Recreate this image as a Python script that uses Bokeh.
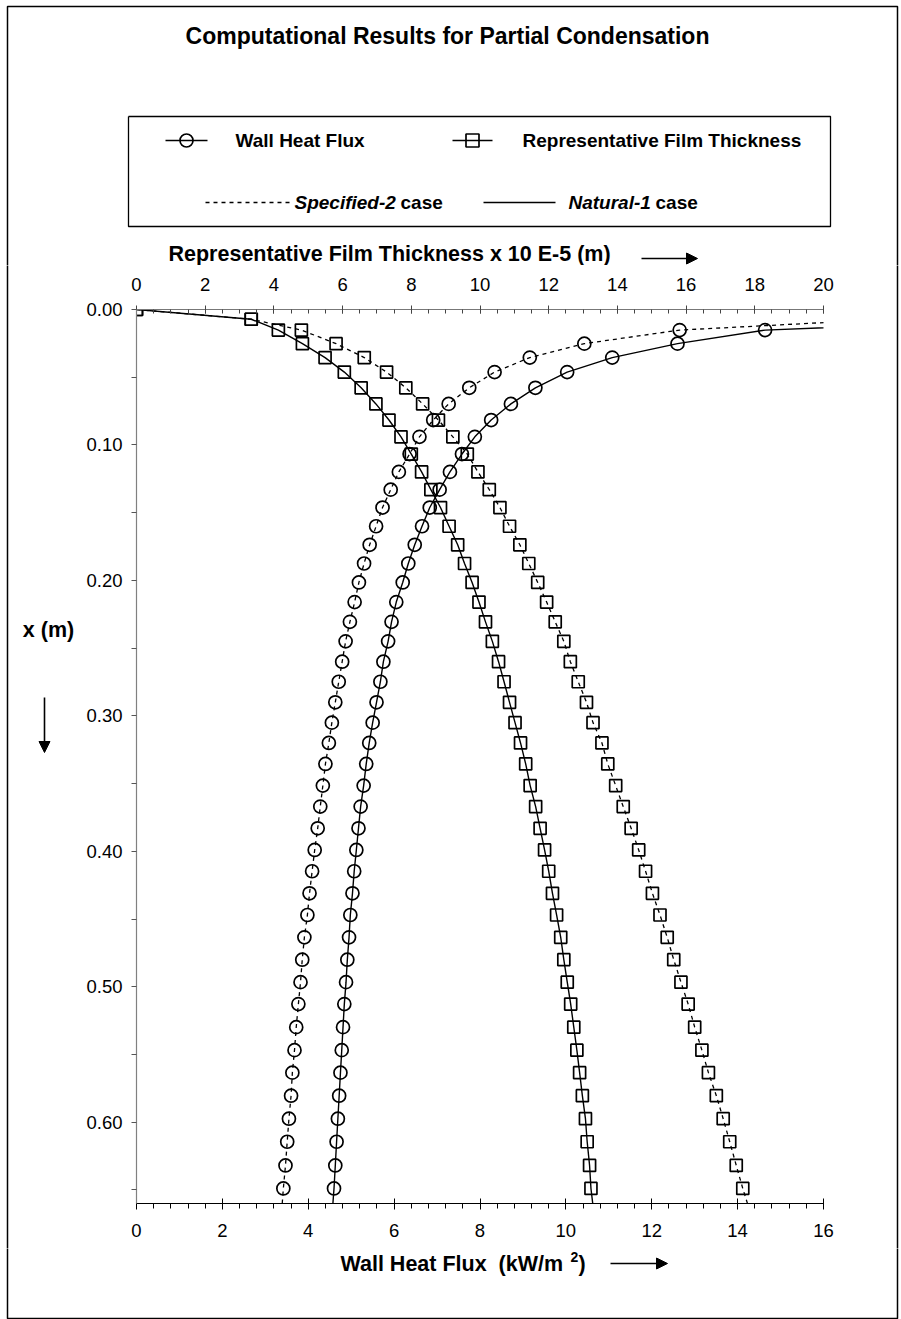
from bokeh.plotting import figure
from bokeh.layouts import column, row
from bokeh.models import (Range1d, LinearAxis, FixedTicker, PrintfTickFormatter,
                          Arrow, NormalHead)
from bokeh.core.properties import value
from bokeh.embed import file_html
from bokeh.resources import INLINE

# ---------------------------------------------------------------- data
# distance along the wall, x (m)
depth = [0, 0.0072, 0.0152, 0.0252, 0.0355, 0.0462, 0.0578, 0.0697, 0.0816, 0.094,
         0.1067, 0.1199, 0.133, 0.1462, 0.160, 0.1737, 0.1875, 0.2015, 0.216, 0.2306,
         0.245, 0.260, 0.2748, 0.290, 0.305, 0.320, 0.3355, 0.3515, 0.367, 0.383,
         0.399, 0.4147, 0.431, 0.447, 0.4635, 0.480, 0.4966, 0.5128, 0.5298, 0.5468,
         0.5634, 0.5804, 0.5974, 0.6144, 0.6319, 0.6489, 0.666]

# wall heat flux (kW/m2); no value at the leading edge
flux_depth = depth[1:]
flux_natural = [21.0, 14.64, 12.60, 11.08, 10.03, 9.29, 8.72, 8.26, 7.88, 7.58,
                7.30, 7.06, 6.83, 6.65, 6.48, 6.33, 6.20, 6.05, 5.94, 5.86,
                5.75, 5.68, 5.59, 5.50, 5.42, 5.35, 5.29, 5.22, 5.17, 5.12,
                5.07, 5.03, 4.98, 4.95, 4.91, 4.88, 4.84, 4.81, 4.78, 4.75,
                4.72, 4.69, 4.66, 4.63, 4.60, 4.56]
flux_specified = [17.5, 12.65, 10.43, 9.16, 8.34, 7.75, 7.27, 6.91, 6.59, 6.36,
                  6.11, 5.92, 5.73, 5.58, 5.43, 5.30, 5.18, 5.08, 4.97, 4.87,
                  4.79, 4.71, 4.63, 4.55, 4.48, 4.40, 4.34, 4.28, 4.22, 4.15,
                  4.09, 4.03, 3.98, 3.91, 3.86, 3.82, 3.77, 3.72, 3.68, 3.63,
                  3.60, 3.55, 3.51, 3.47, 3.42, 3.38]

# representative film thickness (x 10E-5 m)
thick_natural = [0, 3.34, 4.13, 4.83, 5.49, 6.05, 6.54, 6.97, 7.35, 7.70,
                 8.00, 8.30, 8.57, 8.85, 9.10, 9.35, 9.55, 9.77, 9.97, 10.16,
                 10.36, 10.54, 10.70, 10.86, 11.02, 11.18, 11.33, 11.46, 11.62, 11.75,
                 11.88, 12.00, 12.11, 12.23, 12.35, 12.44, 12.54, 12.64, 12.73, 12.82,
                 12.90, 12.98, 13.07, 13.12, 13.19, 13.23, 13.31]
thick_specified = [0, 3.34, 4.80, 5.81, 6.63, 7.28, 7.84, 8.33, 8.79, 9.21,
                   9.63, 9.94, 10.27, 10.58, 10.86, 11.16, 11.42, 11.68, 11.94, 12.19,
                   12.44, 12.63, 12.86, 13.10, 13.29, 13.55, 13.72, 13.95, 14.17, 14.40,
                   14.62, 14.82, 15.02, 15.24, 15.45, 15.64, 15.85, 16.06, 16.25, 16.46,
                   16.65, 16.88, 17.08, 17.27, 17.46, 17.65, 17.86]

flux_ticks = [0, 2, 4, 6, 8, 10, 12, 14, 16]
thick_ticks = [0, 2, 4, 6, 8, 10, 12, 14, 16, 18, 20]
depth_ticks = [0.0, 0.1, 0.2, 0.3, 0.4, 0.5, 0.6]

# ---------------------------------------------------------------- page geometry
W, H = 901, 1319
TOP_H = 265          # header strip: title, key box, top axis title
BOT_Y = 1248         # footer strip: bottom axis title
LEFT_W = 76          # left strip: "x (m)"
RIGHT_X = 881        # right strip: page border
L, R, T, B = 136, 823, 309, 1203   # plotting frame on the page
FONT = "Liberation Sans"
DASH = "4 4"
INK = "black"
NBSP = "\u00a0"
OVER = 4             # border pieces run a little past each strip edge


def no_frame_align(f):
    # keep each strip's frame where its own borders put it
    try:
        f.frame_align = False
    except AttributeError:
        pass
    return f


def strip(x0, y0, w, h):
    """A bare figure whose data units are page pixels."""
    f = figure(width=w, height=h, x_range=Range1d(x0, x0 + w),
               y_range=Range1d(y0 + h, y0), x_axis_location=None,
               y_axis_location=None, toolbar_location=None,
               output_backend="svg", min_border=0)
    f.grid.grid_line_color = None
    f.outline_line_color = None
    f.background_fill_color = "white"
    f.border_fill_color = "white"
    return no_frame_align(f)


def put_text(f, x, y, s, size, style="bold", align="left"):
    f.text(x=[x], y=[y], text=[s], text_font=value(FONT),
           text_font_size=value(size), text_font_style=value(style),
           text_align=value(align), text_baseline=value("middle"),
           text_color=INK)


def put_arrow(f, x0, y0, x1, y1):
    f.add_layout(Arrow(x_start=x0, y_start=y0, x_end=x1, y_end=y1,
                       line_color=INK, line_width=1.6,
                       end=NormalHead(size=11, fill_color=INK, line_color=INK,
                                      line_width=1)))


BORDER = dict(line_color=INK, line_width=1.5)
MK = dict(size=13, fill_color=None, line_color=INK, line_width=1.7)

# ---------------------------------------------------------------- header
head = strip(0, 0, W, TOP_H)
head.line([7, 7, 897, 897], [TOP_H + OVER, 6, 6, TOP_H + OVER], **BORDER)
put_text(head, 447, 35, "Computational Results for Partial Condensation", "23px",
         align="center")
# key box
head.line([128, 830, 830, 128, 128], [116, 116, 226, 226, 116],
          line_color=INK, line_width=1.3)
head.line([165, 207], [140, 140], line_color=INK, line_width=1.3)
head.scatter([186], [140], marker="circle", **MK)
put_text(head, 235, 140, "Wall Heat Flux", "19px")
head.line([452, 492], [140, 140], line_color=INK, line_width=1.3)
head.scatter([472], [140], marker="square", **MK)
put_text(head, 522, 140, "Representative Film Thickness", "19px")
head.line([205, 290], [202, 202], line_color=INK, line_width=1.3, line_dash=DASH)
put_text(head, 294, 202, "Specified-2", "19px", style="bold italic")
put_text(head, 400, 202, "case", "19px")
head.line([483, 555], [202, 202], line_color=INK, line_width=1.3)
put_text(head, 568, 202, "Natural-1", "19px", style="bold italic")
put_text(head, 655, 202, "case", "19px")
# top axis title
put_text(head, 168, 253, "Representative Film Thickness x 10 E-5 (m)", "21.5px")
put_arrow(head, 641, 258, 697, 258)

# ---------------------------------------------------------------- side strips
mid_h = BOT_Y - TOP_H
left = strip(0, TOP_H, LEFT_W, mid_h)
left.line([7, 7], [TOP_H - OVER, BOT_Y + OVER], **BORDER)
put_text(left, 48, 629, "x (m)", "21.5px", align="center")
put_arrow(left, 44, 697, 44, 752)

right = strip(RIGHT_X, TOP_H, W - RIGHT_X, mid_h)
right.line([897, 897], [TOP_H - OVER, BOT_Y + OVER], **BORDER)

# ---------------------------------------------------------------- footer
foot = strip(0, BOT_Y, W, H - BOT_Y)
foot.line([7, 7, 897, 897], [BOT_Y - OVER, 1318, 1318, BOT_Y - OVER], **BORDER)
put_text(foot, 340, 1263, "Wall Heat Flux" + NBSP * 2 + "(kW/m", "21.5px")
put_text(foot, 570, 1256, "2", "14px")
put_text(foot, 578, 1263, ")", "21.5px")
put_arrow(foot, 610, 1263, 667, 1263)

# ---------------------------------------------------------------- main chart
p = figure(width=RIGHT_X - LEFT_W, height=mid_h, output_backend="svg",
           toolbar_location=None,
           x_range=Range1d(0, 16), y_range=Range1d(0.66, 0),
           min_border_left=L - LEFT_W, min_border_right=RIGHT_X - R,
           min_border_top=T - TOP_H, min_border_bottom=BOT_Y - B)
no_frame_align(p)
p.extra_x_ranges = {"thick": Range1d(0, 20)}
p.grid.grid_line_color = None
p.outline_line_color = None
p.background_fill_color = "white"
p.border_fill_color = "white"

# bottom axis: wall heat flux
xb = p.xaxis[0]
xb.ticker = FixedTicker(ticks=flux_ticks, minor_ticks=[i * 0.4 for i in range(41)])
xb.axis_line_color = INK
xb.axis_line_width = 1.2
xb.major_tick_line_color = INK
xb.minor_tick_line_color = INK
xb.major_tick_in, xb.major_tick_out = 5, 6
xb.minor_tick_in, xb.minor_tick_out = 0, 5
xb.major_label_standoff = 14
xb.major_label_text_font = FONT
xb.major_label_text_font_size = "18.5px"
xb.major_label_text_color = INK

# top axis: film thickness
xt = LinearAxis(x_range_name="thick")
xt.ticker = FixedTicker(ticks=thick_ticks, minor_ticks=[i * 0.5 for i in range(41)])
xt.axis_line_color = "#777777"
xt.axis_line_width = 1.2
xt.major_tick_line_color = "#444444"
xt.minor_tick_line_color = "#444444"
xt.major_tick_in, xt.major_tick_out = 4, 4
xt.minor_tick_in, xt.minor_tick_out = 4, 0
xt.major_label_standoff = 15
xt.major_label_text_font = FONT
xt.major_label_text_font_size = "18.5px"
xt.major_label_text_color = INK
p.add_layout(xt, "above")

# left axis: distance x
yl = p.yaxis[0]
yl.ticker = FixedTicker(ticks=depth_ticks,
                        minor_ticks=[0.05, 0.15, 0.25, 0.35, 0.45, 0.55, 0.65])
yl.formatter = PrintfTickFormatter(format="%.2f")
yl.axis_line_color = "#808080"
yl.axis_line_width = 1.2
yl.major_tick_line_color = "#555555"
yl.minor_tick_line_color = "#555555"
yl.major_tick_in, yl.major_tick_out = 0, 5
yl.minor_tick_in, yl.minor_tick_out = 0, 5
yl.major_label_standoff = 9
yl.major_label_text_font = FONT
yl.major_label_text_font_size = "18.5px"
yl.major_label_text_color = INK

# series: dashed = Specified-2 case, solid = Natural-1 case
p.line(flux_specified, flux_depth, line_color=INK, line_width=1.3, line_dash=DASH)
p.scatter(flux_specified, flux_depth, marker="circle", **MK)
p.line(flux_natural, flux_depth, line_color=INK, line_width=1.4)
p.scatter(flux_natural, flux_depth, marker="circle", **MK)

p.line(thick_specified, depth, line_color=INK, line_width=1.3, line_dash=DASH,
       x_range_name="thick")
p.scatter(thick_specified, depth, marker="square", x_range_name="thick",
          **dict(MK, size=12))
p.line(thick_natural, depth, line_color=INK, line_width=1.4, x_range_name="thick")
p.scatter(thick_natural, depth, marker="square", x_range_name="thick",
          **dict(MK, size=12))

page = column(head, row(left, p, right, spacing=0), foot, spacing=0)

open("out.html", "w").write(file_html(page, INLINE))
